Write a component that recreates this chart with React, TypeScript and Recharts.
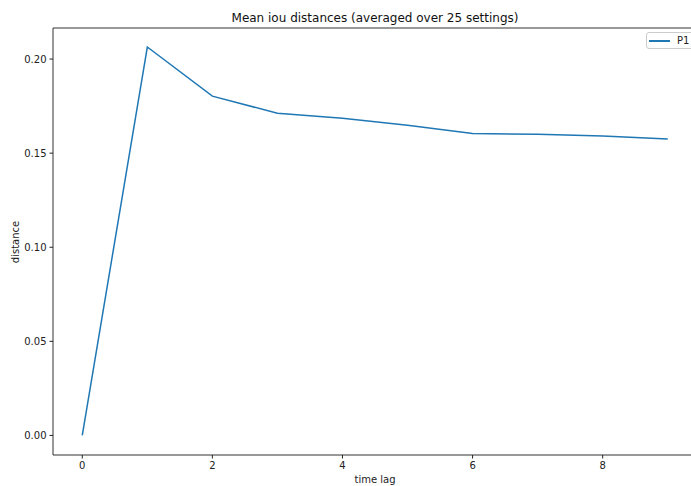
import { Legend, Line, LineChart, ReferenceLine, XAxis, YAxis } from "recharts";

const lags = [0, 1, 2, 3, 4, 5, 6, 7, 8, 9];
const p1 = [0.0, 0.2064, 0.1803, 0.1712, 0.1685, 0.1648, 0.1604, 0.16, 0.1591, 0.1575];
const xTicks = [0, 2, 4, 6, 8];
const yTicks = [0, 0.05, 0.1, 0.15, 0.2];
const yDomain = [-0.0104, 0.2165];

const data = lags.map((lag, i) => ({ lag, P1: p1[i] }));

const FONT = "'DejaVu Sans', sans-serif";
const BLUE = "#1f77b4";
const AXIS = "#333";

function LegendBox() {
  return (
    <div
      style={{
        position: "absolute",
        left: 646,
        top: 32,
        width: 50,
        height: 17,
        boxSizing: "border-box",
        border: "1px solid #cccccc",
        borderRadius: 3,
        background: "rgba(255,255,255,0.8)",
        fontFamily: FONT,
        fontSize: 10,
        color: "#222",
      }}
    >
      <div style={{ position: "absolute", left: 2, top: 7, width: 21, height: 1.5, background: BLUE }} />
      <span style={{ position: "absolute", left: 30, top: 2, lineHeight: "12px" }}>P1</span>
    </div>
  );
}

export default function App() {
  return (
    <div
      style={{
        position: "fixed",
        left: 0,
        top: 0,
        width: 691,
        height: 486,
        overflow: "hidden",
        background: "#fff",
        fontFamily: FONT,
      }}
    >
      <div style={{ position: "relative", width: 720, height: 486 }}>
        <LineChart width={720} height={486} data={data} margin={{ top: 28, right: 23, bottom: 0, left: 0 }}>
          <XAxis
            dataKey="lag"
            type="number"
            domain={[-0.45, 9.45]}
            ticks={xTicks}
            allowDataOverflow
            height={31}
            tickSize={3.5}
            tickMargin={3}
            stroke={AXIS}
            tick={{ fill: "#222", fontSize: 10, fontFamily: FONT }}
            tickLine={{ stroke: "#222" }}
          />
          <YAxis
            type="number"
            domain={yDomain}
            ticks={yTicks}
            allowDataOverflow
            width={53}
            tickSize={3.5}
            tickMargin={3}
            stroke={AXIS}
            tickFormatter={(v: number) => v.toFixed(2)}
            tick={{ fill: "#222", fontSize: 10, fontFamily: FONT }}
            tickLine={{ stroke: "#222" }}
          />
          {/* top spine */}
          <ReferenceLine y={yDomain[1]} stroke={AXIS} strokeWidth={1} ifOverflow="visible" />
          <Legend content={() => <LegendBox />} wrapperStyle={{ position: "absolute", left: 0, top: 0, width: 0, height: 0 }} />
          <Line
            type="linear"
            dataKey="P1"
            stroke={BLUE}
            strokeWidth={1.5}
            dot={false}
            activeDot={false}
            isAnimationActive={false}
          />
        </LineChart>
        <div
          style={{
            position: "absolute",
            left: 375,
            top: 18,
            transform: "translate(-50%, -50%)",
            fontSize: 12,
            color: "#111",
            whiteSpace: "nowrap",
          }}
        >
          Mean iou distances (averaged over 25 settings)
        </div>
        <div
          style={{
            position: "absolute",
            left: 375,
            top: 479,
            transform: "translate(-50%, -50%)",
            fontSize: 10,
            color: "#222",
            whiteSpace: "nowrap",
          }}
        >
          time lag
        </div>
        <div
          style={{
            position: "absolute",
            left: 15,
            top: 241.5,
            transform: "translate(-50%, -50%) rotate(-90deg)",
            fontSize: 10,
            color: "#222",
            whiteSpace: "nowrap",
          }}
        >
          distance
        </div>
      </div>
    </div>
  );
}
